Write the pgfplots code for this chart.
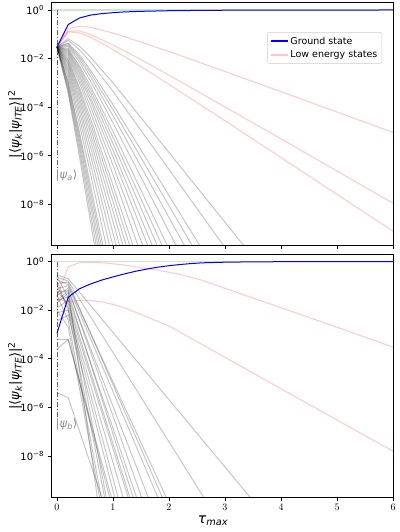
\documentclass[border=0pt]{standalone}
\usepackage{fontspec}
\setmainfont{DejaVu Sans}
\usepackage{pgfplots}
\pgfplotsset{compat=1.18}
\definecolor{mplgreen}{rgb}{0,0.5,0}
\definecolor{legframe}{gray}{0.8}
\definecolor{legpink}{rgb}{1,0.78,0.78}
\pgfplotsset{
  panel/.style={
    scale only axis, width=342pt, height=243pt,
    xmin=-0.107, xmax=6, ymin=-9.7, ymax=0.3,
    xtick={0,1,2,3,4,5,6}, ytick={0,-2,-4,-6,-8},
    yticklabels={10\textsuperscript{0},10\textsuperscript{−2},10\textsuperscript{−4},10\textsuperscript{−6},10\textsuperscript{−8}},
    tick align=outside, tick pos=left,
    major tick length=3.5pt,
    tick style={black, line width=0.8pt},
    axis line style={black, line width=0.8pt},
    every tick label/.append style={font=\fontsize{10}{12}\selectfont},
    ylabel={|⟨\textit{ψ}\textsubscript{\textit{k}}|\textit{ψ}\textsubscript{\textit{ITE}}⟩|\textsuperscript{2}},
    every axis y label/.style={at={(axis description cs:-0.105,0.5)}, rotate=90, anchor=center, font=\fontsize{13}{15}\selectfont},
  },
  gr/.style={black, opacity=0.22, line width=1pt, forget plot},
  pk/.style={red, opacity=0.2, line width=1.1pt, forget plot},
  gs/.style={blue, line width=1pt, forget plot},
  gl/.style={mplgreen, opacity=0.2, line width=1.1pt, forget plot},
  dd/.style={black!60, line width=0.9pt, dash pattern=on 5pt off 2pt on 1pt off 2pt, forget plot},
}
\begin{document}
\begin{tikzpicture}
\useasboundingbox (0,0) rectangle (399pt,-532pt);
% ---------------- top panel ----------------
\begin{axis}[panel, at={(51pt,-2.7pt)}, anchor=north west, xticklabels={},
  legend style={at={(0.968,0.879)}, anchor=north east, draw=legframe, rounded corners=2pt,
    font=\fontsize{9.5}{11.5}\selectfont, inner sep=2.5pt, row sep=1pt, legend cell align=left}]
\addplot[gl] coordinates {(-0.2,0) (6.2,0)};
\addplot[dd] coordinates {(0,0) (0,-6.5)};
\node[anchor=west, text=black!45, font=\fontsize{11.5}{13}\selectfont, inner sep=0pt, xshift=-1.5pt] at (axis cs:0,-6.8) {|\textit{ψ}\textsubscript{\textit{a}}⟩};
% gray states
\addplot[gr] coordinates {(0,-1.52) (0.2,-3.44) (0.4,-6.02) (0.6,-8.74) (0.731,-10.5)};
\addplot[gr] coordinates {(0,-1.52) (0.2,-3.33) (0.4,-5.78) (0.6,-8.39) (0.763,-10.5)};
\addplot[gr] coordinates {(0,-1.52) (0.2,-3.22) (0.4,-5.56) (0.6,-8.06) (0.795,-10.5)};
\addplot[gr] coordinates {(0,-1.52) (0.2,-3.12) (0.4,-5.36) (0.6,-7.76) (0.827,-10.5)};
\addplot[gr] coordinates {(0,-1.52) (0.2,-3.02) (0.4,-5.17) (0.6,-7.48) (0.859,-10.5)};
\addplot[gr] coordinates {(0,-1.52) (0.2,-2.94) (0.4,-5.00) (0.6,-7.22) (0.890,-10.5)};
\addplot[gr] coordinates {(0,-1.52) (0.2,-2.78) (0.4,-4.69) (0.6,-6.75) (0.954,-10.5)};
\addplot[gr] coordinates {(0,-1.52) (0.2,-2.64) (0.4,-4.41) (0.6,-6.34) (1.019,-10.5)};
\addplot[gr] coordinates {(0,-1.52) (0.2,-2.52) (0.4,-4.17) (0.6,-5.98) (1.0,-9.72) (1.082,-10.5)};
\addplot[gr] coordinates {(0,-1.52) (0.2,-2.42) (0.4,-3.96) (0.6,-5.66) (1.0,-9.19) (1.151,-10.5)};
\addplot[gr] coordinates {(0,-1.52) (0.2,-2.32) (0.4,-3.77) (0.6,-5.37) (1.0,-8.71) (1.215,-10.5)};
\addplot[gr] coordinates {(0,-1.52) (0.2,-2.23) (0.4,-3.60) (0.6,-5.11) (1.0,-8.28) (1.279,-10.5)};
\addplot[gr] coordinates {(0,-1.52) (0.2,-2.16) (0.4,-3.44) (0.6,-4.88) (1.0,-7.89) (1.343,-10.5)};
\addplot[gr] coordinates {(0,-1.52) (0.2,-2.08) (0.4,-3.30) (0.6,-4.66) (1.0,-7.53) (1.408,-10.5)};
\addplot[gr] coordinates {(0,-1.52) (0.2,-2.02) (0.4,-3.17) (0.6,-4.47) (1.0,-7.21) (1.472,-10.5)};
\addplot[gr] coordinates {(0,-1.52) (0.2,-1.93) (0.4,-2.99) (0.6,-4.21) (1.0,-6.77) (1.569,-10.5)};
\addplot[gr] coordinates {(0,-1.52) (0.2,-1.86) (0.4,-2.84) (0.6,-3.98) (1.0,-6.39) (1.664,-10.5)};
\addplot[gr] coordinates {(0,-1.52) (0.2,-1.79) (0.4,-2.71) (0.6,-3.77) (1.0,-6.05) (1.759,-10.5)};
\addplot[gr] coordinates {(0,-1.52) (0.2,-1.73) (0.4,-2.59) (0.6,-3.61) (1.0,-5.77) (1.846,-10.5)};
\addplot[gr] coordinates {(0,-1.52) (0.2,-1.68) (0.4,-2.48) (0.6,-3.44) (1.0,-5.49) (1.942,-10.5)};
\addplot[gr] coordinates {(0,-1.52) (0.2,-1.63) (0.4,-2.38) (0.6,-3.29) (1.0,-5.24) (2.037,-10.5)};
\addplot[gr] coordinates {(0,-1.52) (0.2,-1.58) (0.4,-2.29) (0.6,-3.14) (1.0,-5.00) (2.137,-10.5)};
\addplot[gr] coordinates {(0,-1.52) (0.2,-1.51) (0.4,-2.14) (0.6,-2.93) (1.0,-4.64) (2.307,-10.5)};
\addplot[gr] coordinates {(0,-1.52) (0.2,-1.45) (0.4,-2.02) (0.6,-2.75) (1.0,-4.35) (2.468,-10.5)};
\addplot[gr] coordinates {(0,-1.52) (0.2,-1.40) (0.4,-1.93) (0.6,-2.60) (1.0,-4.10) (2.619,-10.5)};
\addplot[gr] coordinates {(0,-1.52) (0.2,-1.36) (0.4,-1.84) (0.6,-2.48) (1.0,-3.89) (2.765,-10.5)};
\addplot[gr] coordinates {(0,-1.52) (0.2,-1.25) (0.4,-1.63) (0.6,-2.15) (1.0,-3.35) (3.225,-10.5)};
\addplot[gr] coordinates {(0,-1.52) (0.2,-1.18) (0.4,-1.49) (0.6,-1.94) (1.0,-3.00) (3.616,-10.5)};
% low energy states
\addplot[pk] coordinates {(0,-1.52) (0.2,-0.77) (0.4,-0.67) (0.6,-0.71) (1.0,-0.95) (1.5,-1.32) (2,-1.71) (3,-2.53) (4,-3.36) (5,-4.20) (6,-5.04)};
\addplot[pk] coordinates {(0,-1.52) (0.2,-0.87) (0.4,-0.86) (0.6,-1.01) (1.0,-1.44) (1.5,-2.04) (2,-2.68) (3,-3.99) (4,-5.30) (5,-6.63) (6,-7.95)};
\addplot[pk] coordinates {(0,-1.52) (0.2,-0.90) (0.4,-0.94) (0.6,-1.12) (1.0,-1.63) (1.5,-2.33) (2,-3.06) (3,-4.56) (4,-6.07) (5,-7.59) (6,-9.10)};
% ground state
\addplot[gs] coordinates {(0,-1.52) (0.2,-0.60) (0.4,-0.33) (0.6,-0.21) (0.8,-0.15) (1.0,-0.11) (1.2,-0.08) (1.5,-0.055) (2,-0.03) (2.5,-0.018) (3,-0.01) (4,-0.004) (5,-0.002) (6,0)};
\addlegendimage{blue, line width=1.6pt}\addlegendentry{Ground state}
\addlegendimage{legpink, line width=1.6pt}\addlegendentry{Low energy states}
\end{axis}
% ---------------- bottom panel ----------------
\begin{axis}[panel, at={(51pt,-254.3pt)}, anchor=north west,
  xlabel={\textit{τ}\textsubscript{\textit{max}}},
  every axis x label/.style={at={(axis description cs:0.474,-0.095)}, anchor=center, font=\fontsize{14}{16}\selectfont}]
\addplot[gl] coordinates {(-0.2,0) (6.2,0)};
\addplot[dd] coordinates {(0,0) (0,-6.42)};
\node[anchor=west, text=black!45, font=\fontsize{11.5}{13}\selectfont, inner sep=0pt, xshift=-1.5pt] at (axis cs:0,-6.72) {|\textit{ψ}\textsubscript{\textit{b}}⟩};
% gray states
\addplot[gr] coordinates {(0,-0.55) (0.2,-0.70) (3.45,-9.7)};
\addplot[gr] coordinates {(0,-0.65) (0.2,-0.80) (2.62,-9.7)};
\addplot[gr] coordinates {(0,-0.75) (0.2,-0.95) (1.95,-9.7)};
\addplot[gr] coordinates {(0,-0.90) (0.2,-0.85) (1.88,-9.7)};
\addplot[gr] coordinates {(0,-1.10) (0.2,-1.00) (1.80,-9.7)};
\addplot[gr] coordinates {(0,-1.25) (0.2,-1.20) (1.63,-9.7)};
\addplot[gr] coordinates {(0,-1.40) (0.2,-1.10) (1.51,-9.7)};
\addplot[gr] coordinates {(0,-1.60) (0.2,-1.45) (1.42,-9.7)};
\addplot[gr] coordinates {(0,-1.70) (0.2,-1.30) (1.36,-9.7)};
\addplot[gr] coordinates {(0,-1.90) (0.2,-1.60) (1.30,-9.7)};
\addplot[gr] coordinates {(0,-1.20) (0.2,-1.75) (1.27,-9.7)};
\addplot[gr] coordinates {(0,-1.00) (0.2,-1.90) (1.18,-9.7)};
\addplot[gr] coordinates {(0,-2.10) (0.2,-2.00) (1.09,-9.7)};
\addplot[gr] coordinates {(0,-2.45) (0.2,-2.20) (1.03,-9.7)};
\addplot[gr] coordinates {(0,-3.20) (0.2,-3.20) (0.97,-9.7)};
\addplot[gr] coordinates {(0,-3.60) (0.2,-3.20) (0.94,-9.7)};
\addplot[gr] coordinates {(0,-0.60) (0.2,-1.50) (0.88,-9.7)};
\addplot[gr] coordinates {(0,-0.80) (0.2,-2.00) (0.85,-9.7)};
\addplot[gr] coordinates {(0,-5.40) (0.2,-5.60) (0.80,-9.7)};
\addplot[gr] coordinates {(0,-1.40) (0.2,-2.40) (0.79,-9.7)};
\addplot[gr] coordinates {(0,-2.00) (0.2,-2.70) (0.76,-9.7)};
\addplot[gr] coordinates {(0,-1.60) (0.2,-1.20) (0.72,-9.7)};
% low energy states
\addplot[pk] coordinates {(0,-1.42) (0.2,-0.22) (0.4,-0.04) (0.6,-0.03) (0.8,-0.05) (1.0,-0.09) (1.2,-0.14) (1.4,-0.21) (1.6,-0.28) (1.8,-0.35) (2.0,-0.44) (2.2,-0.53) (2.55,-0.74) (3,-1.10) (4,-1.90) (5,-2.70) (6,-3.52)};
\addplot[pk] coordinates {(0,-1.55) (0.2,-1.65) (0.4,-1.60) (0.6,-1.60) (0.8,-1.66) (1.0,-1.76) (1.2,-1.90) (1.4,-2.08) (1.6,-2.27) (1.8,-2.46) (2.0,-2.65) (2.55,-3.36) (3,-3.94) (4,-5.23) (5,-6.52) (6,-7.80)};
% ground state
\addplot[gs] coordinates {(0,-2.95) (0.2,-1.47) (0.4,-1.12) (0.6,-0.92) (0.8,-0.76) (1.0,-0.63) (1.2,-0.51) (1.4,-0.40) (1.6,-0.31) (1.8,-0.23) (2.0,-0.17) (2.2,-0.12) (2.4,-0.08) (2.6,-0.05) (3.0,-0.025) (3.5,-0.01) (4,-0.005) (5,-0.002) (6,0)};
\end{axis}
\end{tikzpicture}
\end{document}
